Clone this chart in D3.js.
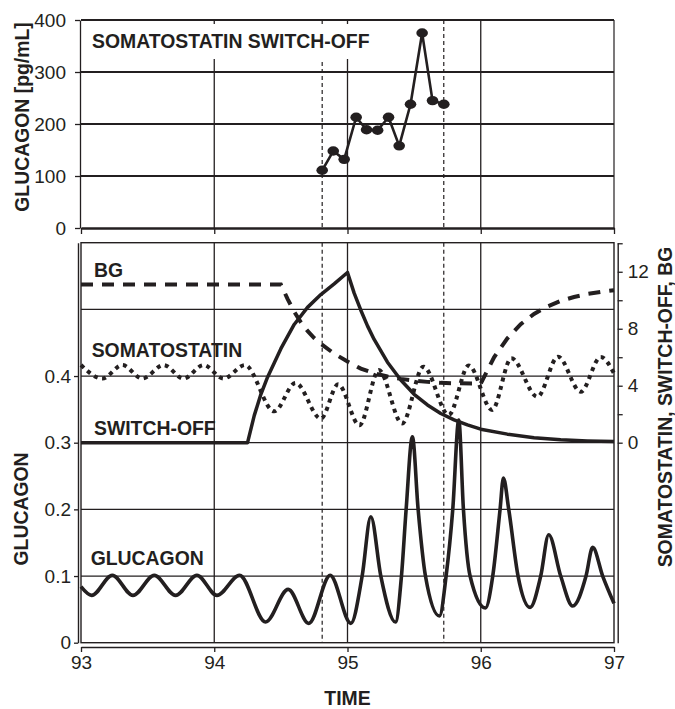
<!DOCTYPE html>
<html><head><meta charset="utf-8">
<script src="https://cdn.jsdelivr.net/npm/d3@7"></script>
<style>body{margin:0;background:#fff}</style>
</head><body><svg id="c" width="675" height="709"></svg>
<script>
// ---------- DATA ----------
const timeTicks = [93, 94, 95, 96, 97];
const timeTickLabels = ["93", "94", "95", "96", "97"];
const topTicks = [0, 100, 200, 300, 400];
const topTickLabels = ["0", "100", "200", "300", "400"];
const glucTicks = [0, 0.1, 0.2, 0.3, 0.4];
const glucTickLabels = ["0", "0.1", "0.2", "0.3", "0.4"];
const glucGrid = [0.1, 0.2, 0.3, 0.4, 0.5];
const rightTicks = [0, 2, 4, 6, 8, 10, 12, 14];
const rightTickLabels = ["0", "", "4", "", "8", "", "12", ""];
const markerTimes = [94.81, 95.7225];

// measured glucagon (top panel)
const sampleTime = [94.81, 94.893, 94.975, 95.065, 95.143, 95.226, 95.308, 95.388, 95.473, 95.56, 95.638, 95.723];
const sampleGlucagon = [111, 148, 132, 213, 189, 188, 213, 158, 238, 375, 245, 238];

// model glucagon (bottom panel, left axis)
const glucT = [93.0, 93.08, 93.235, 93.39, 93.55, 93.71, 93.87, 94.02, 94.19, 94.385, 94.555, 94.71, 94.87, 95.025, 95.11, 95.175, 95.25, 95.36, 95.405, 95.44, 95.487, 95.53, 95.585, 95.69, 95.74, 95.79, 95.835, 95.87, 95.92, 96.035, 96.09, 96.145, 96.17, 96.21, 96.28, 96.37, 96.45, 96.51, 96.6, 96.69, 96.79, 96.84, 96.915, 97.0];
const glucV = [0.084, 0.071, 0.101, 0.071, 0.101, 0.071, 0.101, 0.071, 0.101, 0.031, 0.080, 0.029, 0.101, 0.029, 0.100, 0.189, 0.100, 0.031, 0.100, 0.200, 0.309, 0.200, 0.100, 0.040, 0.100, 0.200, 0.334, 0.200, 0.100, 0.052, 0.100, 0.200, 0.247, 0.200, 0.100, 0.053, 0.100, 0.162, 0.100, 0.055, 0.100, 0.143, 0.100, 0.059];

// somatostatin (right axis)
const sstT = [93.0, 93.16, 93.31, 93.46, 93.62, 93.77, 93.92, 94.07, 94.23, 94.45, 94.61, 94.8, 94.93, 95.09, 95.235, 95.41, 95.57, 95.76, 95.91, 96.085, 96.23, 96.425, 96.58, 96.75, 96.9, 97.0];
const sstV = [5.45, 4.5, 5.45, 4.5, 5.45, 4.5, 5.45, 4.5, 5.45, 2.2, 4.2, 1.69, 4.1, 1.22, 5.1, 1.35, 5.34, 1.95, 5.42, 2.3, 5.93, 3.22, 6.04, 3.57, 6.02, 4.87];

// blood glucose BG (right axis)
const bgT = [93.0, 94.5, 94.55, 94.6, 94.65, 94.7, 94.75, 94.8, 94.9, 95.0, 95.1, 95.2, 95.3, 95.4, 95.5, 95.6, 95.7, 95.8, 96.0, 96.1, 96.2, 96.3, 96.4, 96.5, 96.6, 96.7, 96.8, 96.9, 97.0];
const bgV = [11.1, 11.1, 10.1, 9.2, 8.45, 7.85, 7.35, 6.95, 6.25, 5.7, 5.2, 4.88, 4.65, 4.48, 4.36, 4.27, 4.2, 4.17, 4.15, 6.0, 7.33, 8.32, 9.04, 9.56, 9.95, 10.23, 10.44, 10.59, 10.7];

// switch-off signal (right axis)
const swT = [93.0, 94.25, 94.3, 94.35, 94.4, 94.45, 94.5, 94.6, 94.7, 94.8, 94.9, 95.0, 95.05, 95.1, 95.15, 95.2, 95.3, 95.4, 95.5, 95.6, 95.7, 95.8, 95.9, 96.0, 96.2, 96.4, 96.6, 96.8, 97.0];
const swV = [0, 0, 1.9, 3.4, 4.6, 5.6, 6.6, 8.3, 9.5, 10.4, 11.15, 11.95, 10.5, 9.3, 8.2, 7.25, 5.65, 4.4, 3.4, 2.65, 2.05, 1.6, 1.25, 0.95, 0.6, 0.35, 0.2, 0.12, 0.08];

// ---------- CHART ----------
const ink = "#231f20";
const FONT = "'Liberation Sans', Arial, Helvetica, sans-serif";
const FS = 19.4;
const svg = d3.select("#c");
svg.append("rect").attr("width", 675).attr("height", 709).attr("fill", "#fff");

const x = d3.scaleLinear([93, 97], [81, 614]);
const yTop = d3.scaleLinear([0, 400], [228, 20]);
const yL = d3.scaleLinear([0, 0.6], [642.7, 242.7]);
const yR = d3.scaleLinear([-14.04, 14.04], [642.7, 242.7]);

function styleAxis(g, width) {
  g.attr("font-family", FONT).attr("font-size", 19);
  g.selectAll("path.domain").attr("stroke", ink).attr("stroke-width", width);
  g.selectAll(".tick line").attr("stroke", ink).attr("stroke-width", 1.3);
  g.selectAll(".tick text").attr("fill", ink);
}

// ---- top panel ----
const topG = svg.append("g");
topG.selectAll("line.vg").data([94, 95, 96]).join("line")
  .attr("x1", d => x(d)).attr("x2", d => x(d)).attr("y1", yTop(400)).attr("y2", yTop(0))
  .attr("stroke", ink).attr("stroke-width", 1.3);
topG.selectAll("line.hg").data([100, 200, 300, 400]).join("line")
  .attr("x1", x(93)).attr("x2", x(97)).attr("y1", d => yTop(d)).attr("y2", d => yTop(d))
  .attr("stroke", ink).attr("stroke-width", 2);
topG.append("line").attr("x1", x(97)).attr("x2", x(97)).attr("y1", yTop(400)).attr("y2", yTop(0))
  .attr("stroke", ink).attr("stroke-width", 1.2);
topG.selectAll("line.dm").data(markerTimes).join("line")
  .attr("x1", d => x(d)).attr("x2", d => x(d)).attr("y1", yTop(400)).attr("y2", yTop(0))
  .attr("stroke", ink).attr("stroke-width", 1.2).attr("stroke-dasharray", "4,3");
topG.append("rect").attr("x", 86).attr("y", 24).attr("width", 290).attr("height", 35).attr("fill", "#fff");
topG.append("text").attr("x", 92).attr("y", 48.3).attr("font-family", FONT).attr("font-size", FS)
  .attr("font-weight", "bold").attr("fill", ink).text("SOMATOSTATIN SWITCH-OFF");

const gTopL = topG.append("g").attr("transform", `translate(80,0)`)
  .call(d3.axisLeft(yTop).tickValues(topTicks).tickFormat((d, i) => topTickLabels[i]).tickSize(5).tickPadding(9).tickSizeOuter(0));
styleAxis(gTopL, 1.3);
const gTopB = topG.append("g").attr("transform", `translate(0,228)`)
  .call(d3.axisBottom(x).tickValues(timeTicks).tickFormat("").tickSize(6).tickSizeOuter(0));
styleAxis(gTopB, 2.6);

const sampleData = sampleTime.map((t, i) => ({t, v: sampleGlucagon[i]}));
topG.append("path").datum(sampleData)
  .attr("d", d3.line().x(d => x(d.t)).y(d => yTop(d.v)))
  .attr("fill", "none").attr("stroke", ink).attr("stroke-width", 2.6).attr("stroke-linejoin", "round");
topG.selectAll("ellipse").data(sampleData).join("ellipse")
  .attr("cx", d => x(d.t)).attr("cy", d => yTop(d.v)).attr("rx", 5.8).attr("ry", 4.7).attr("fill", ink);

svg.append("text").attr("transform", "translate(28.5,117) rotate(-90)").attr("text-anchor", "middle")
  .attr("font-family", FONT).attr("font-size", FS).attr("font-weight", "bold").attr("fill", ink)
  .text("GLUCAGON [pg/mL]");

// ---- bottom panel ----
const bot = svg.append("g");
bot.selectAll("line.vg").data([94, 95, 96]).join("line")
  .attr("x1", d => x(d)).attr("x2", d => x(d)).attr("y1", yL(0.6)).attr("y2", yL(0))
  .attr("stroke", ink).attr("stroke-width", 1.3);
bot.selectAll("line.hg").data(glucGrid).join("line")
  .attr("x1", x(93)).attr("x2", x(97)).attr("y1", d => yL(d)).attr("y2", d => yL(d))
  .attr("stroke", ink).attr("stroke-width", 1.3);
bot.selectAll("line.dm").data(markerTimes).join("line")
  .attr("x1", d => x(d)).attr("x2", d => x(d)).attr("y1", yL(0.6)).attr("y2", yL(0))
  .attr("stroke", ink).attr("stroke-width", 1.2).attr("stroke-dasharray", "4,3");
bot.append("rect").attr("x", x(93)).attr("y", yL(0.6)).attr("width", x(97) - x(93)).attr("height", yL(0) - yL(0.6))
  .attr("fill", "none").attr("stroke", ink).attr("stroke-width", 1.4);

const gL = bot.append("g").attr("transform", "translate(78,0)")
  .call(d3.axisLeft(yL).tickValues(glucTicks).tickFormat((d, i) => glucTickLabels[i]).tickSize(4).tickPadding(3).tickSizeOuter(0));
styleAxis(gL, 1.4);
const gR = bot.append("g").attr("transform", "translate(617.7,0)")
  .call(d3.axisRight(yR).tickValues(rightTicks).tickFormat((d, i) => rightTickLabels[i]).tickSize(5).tickPadding(5).tickSizeOuter(0));
styleAxis(gR, 1.4);
const gB = bot.append("g").attr("transform", "translate(0,647)")
  .call(d3.axisBottom(x).tickValues(timeTicks).tickFormat((d, i) => timeTickLabels[i]).tickSize(5).tickPadding(4).tickSizeOuter(0));
styleAxis(gB, 1.4);

const pts = (T, V) => T.map((t, i) => ({t, v: V[i]}));
bot.append("path").datum(pts(bgT, bgV))
  .attr("d", d3.line().x(d => x(d.t)).y(d => yR(d.v)).curve(d3.curveLinear))
  .attr("fill", "none").attr("stroke", ink).attr("stroke-width", 4).attr("stroke-dasharray", "12,9");
bot.append("path").datum(pts(sstT, sstV))
  .attr("d", d3.line().x(d => x(d.t)).y(d => yR(d.v)).curve(d3.curveMonotoneX))
  .attr("fill", "none").attr("stroke", ink).attr("stroke-width", 4).attr("stroke-dasharray", "4,4.5");
bot.append("path").datum(pts(swT, swV))
  .attr("d", d3.line().x(d => x(d.t)).y(d => yR(d.v)).curve(d3.curveLinear))
  .attr("fill", "none").attr("stroke", ink).attr("stroke-width", 3.5).attr("stroke-linejoin", "round");
bot.append("path").datum(pts(glucT, glucV))
  .attr("d", d3.line().x(d => x(d.t)).y(d => yL(d.v)).curve(d3.curveMonotoneX))
  .attr("fill", "none").attr("stroke", ink).attr("stroke-width", 3.6).attr("stroke-linejoin", "round");

const lbl = [["BG", 94, 276.7], ["SOMATOSTATIN", 91.7, 357.3], ["SWITCH-OFF", 94, 435], ["GLUCAGON", 90.7, 565]];
bot.selectAll("text.lbl").data(lbl).join("text")
  .attr("x", d => d[1]).attr("y", d => d[2]).attr("font-family", FONT).attr("font-size", FS)
  .attr("font-weight", "bold").attr("fill", ink).text(d => d[0]);

svg.append("text").attr("transform", "translate(28.3,509) rotate(-90)").attr("text-anchor", "middle")
  .attr("font-family", FONT).attr("font-size", FS).attr("font-weight", "bold").attr("fill", ink).text("GLUCAGON");
svg.append("text").attr("transform", "translate(672,407) rotate(-90)").attr("text-anchor", "middle")
  .attr("font-family", FONT).attr("font-size", FS).attr("font-weight", "bold").attr("fill", ink).text("SOMATOSTATIN, SWITCH-OFF, BG");
svg.append("text").attr("x", x(95)).attr("y", 705).attr("text-anchor", "middle")
  .attr("font-family", FONT).attr("font-size", FS).attr("font-weight", "bold").attr("fill", ink).text("TIME");
</script></body></html>
